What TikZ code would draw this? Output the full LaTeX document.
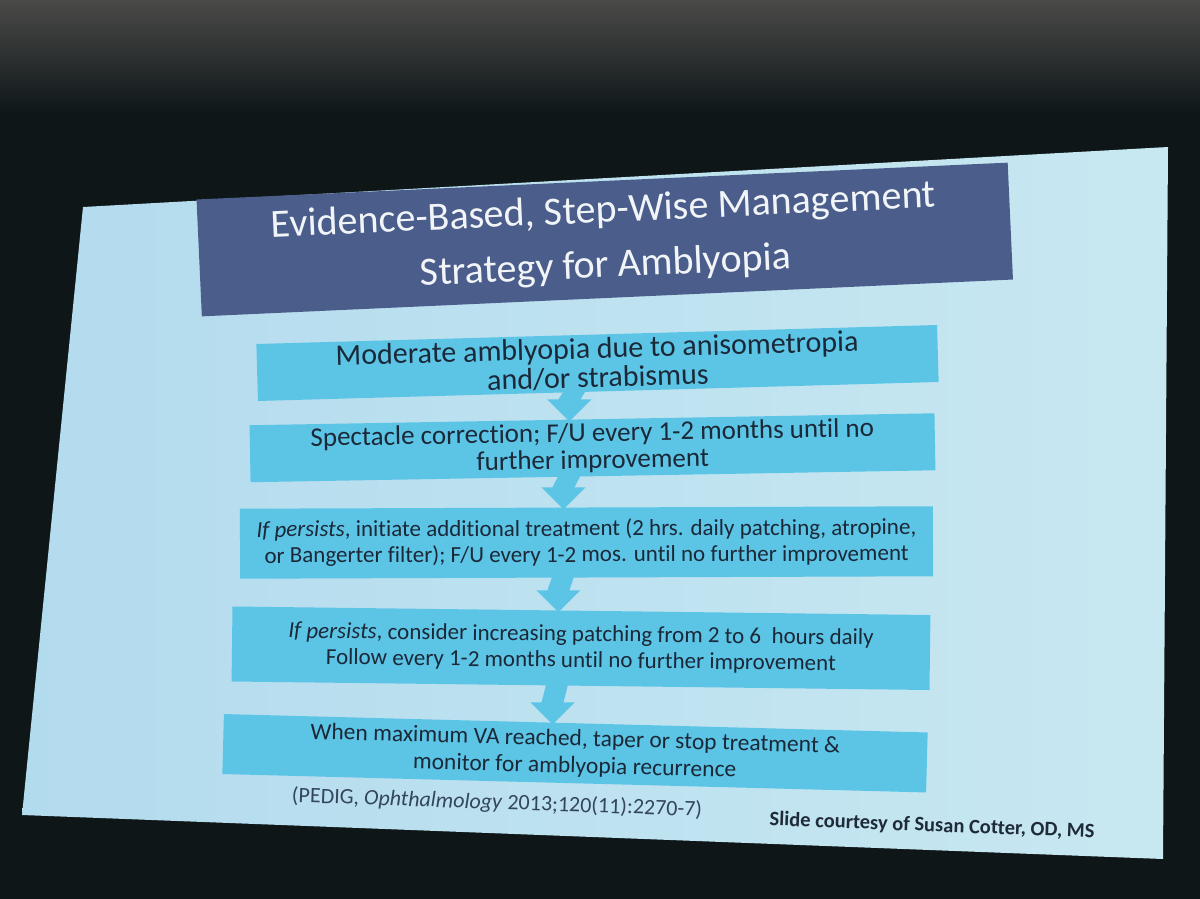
\documentclass[tikz,border=0pt]{standalone}
\usepackage{fontspec}
\setmainfont{Carlito}[Ligatures=NoCommon]
\usetikzlibrary{calc}
\definecolor{darkbg}{HTML}{0E1618}
\definecolor{topgray}{HTML}{4A4A48}
\definecolor{slideL}{HTML}{B3DBEE}
\definecolor{slideR}{HTML}{C8E8F1}
\definecolor{boxc}{HTML}{5CC5E6}
\definecolor{titlec}{HTML}{4B5D8B}
\definecolor{titletext}{HTML}{F2F5F8}
\definecolor{boxtext}{HTML}{1B2838}
\definecolor{foottext}{HTML}{34465A}
\definecolor{footbold}{HTML}{1F2B38}
\newcommand{\flowarrow}[2]{%
  \coordinate (fa-s) at ($(#1.south west)!0.467!(#1.south east)$);
  \coordinate (fa-t) at ($(#2.north west)!0.467!(#2.north east)+(0,2)$);
  \fill[boxc] ($(fa-s)+(-11,-3)$) -- ($(fa-s)+(11,-3)$) -- ($(fa-t)+(11,-22)$)
    -- ($(fa-t)+(22,-22)$) -- (fa-t) -- ($(fa-t)+(-22,-22)$) -- ($(fa-t)+(-11,-22)$) -- cycle;}
\begin{document}
\begin{tikzpicture}[x=1pt,y=-1pt,
  flowbox/.style={fill=boxc, draw=none, inner sep=0pt, align=center, text=boxtext},
  titlebox/.style={fill=titlec, draw=none, inner sep=0pt, align=center, text=titletext},
  foot/.style={inner sep=0pt, text=foottext}]
\useasboundingbox (0,0) rectangle (1200,899);
% photo background
\fill[darkbg] (0,0) rectangle (1200,899);
\shade[top color=topgray, bottom color=darkbg] (0,0) rectangle (1200,115);
% projected slide
\shade[left color=slideL, right color=slideR] (83,207) -- (1168,147) -- (1163,859) -- (22,815) -- cycle;
% title
\node[titlebox, minimum width=812pt, minimum height=117pt, rotate=2.6,
      font=\fontsize{40}{55}\selectfont] (title) at (604.75,239.5)
  {Evidence-Based, Step-Wise Management\\Strategy for Amblyopia};
% flow boxes
\node[flowbox, minimum width=681pt, minimum height=57pt, rotate=1.6,
      font=\fontsize{30}{29}\selectfont] (b1) at (597.5,363)
  {Moderate amblyopia due to anisometropia\\and/or strabismus};
\node[flowbox, minimum width=685pt, minimum height=57pt, rotate=1.0,
      font=\fontsize{27}{27}\selectfont] (b2) at (592.5,447.75)
  {Spectacle correction; F/U every 1-2 months until no\\further improvement};
\node[flowbox, minimum width=693pt, minimum height=70pt, rotate=0.2,
      font=\fontsize{23}{26}\selectfont] (b3) at (586.5,542.5)
  {\textit{If persists}, initiate additional treatment (2 hrs. daily patching, atropine,\\or Bangerter filter); F/U every 1-2 mos. until no further improvement};
\node[flowbox, minimum width=698pt, minimum height=75pt, rotate=-0.7,
      font=\fontsize{23}{26}\selectfont] (b4) at (581,648.25)
  {\textit{If persists}, consider increasing patching from 2 to 6~ hours daily\\Follow every 1-2 months until no further improvement};
\node[flowbox, minimum width=704pt, minimum height=60pt, rotate=-1.5,
      font=\fontsize{23.5}{27}\selectfont] (b5) at (575,753.25)
  {When maximum VA reached, taper or stop treatment \&\\monitor for amblyopia recurrence};
% connectors
\flowarrow{b1}{b2}
\flowarrow{b2}{b3}
\flowarrow{b3}{b4}
\flowarrow{b4}{b5}
% footers
\node[foot, rotate=-2, font=\fontsize{22}{26}\selectfont] (cite) at (497,803)
  {(PEDIG, \textit{Ophthalmology} 2013;120(11):2270-7)};
\node[foot, text=footbold, rotate=-2.2, font=\fontsize{20.5}{24}\selectfont\bfseries] (credit) at (932,826)
  {Slide courtesy of Susan Cotter, OD, MS};
\end{tikzpicture}
\end{document}
